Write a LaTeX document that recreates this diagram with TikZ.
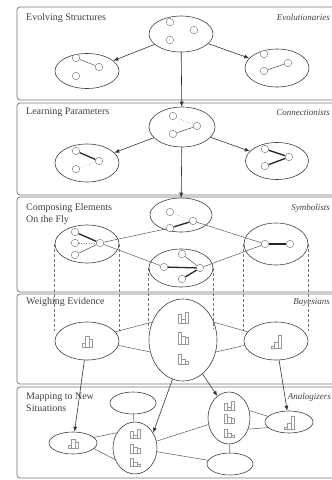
\documentclass[tikz,border=0pt]{standalone}
\usepackage{fontspec}
\setmainfont{Liberation Serif}
\usetikzlibrary{shapes.geometric,arrows.meta}

\begin{document}
\begin{tikzpicture}[x=1pt,y=-1pt,
  panel/.style={draw=black!55, line width=0.7pt, rounded corners=3pt},
  blob/.style={ellipse, draw=black!75, line width=0.6pt, fill=white, inner sep=0pt},
  dot/.style={circle, draw=black!55, fill=white, minimum size=7.5pt, inner sep=0pt},
  task/.style={anchor=north west, inner sep=0pt, align=left, text=black!75, font=\fontsize{10}{12}\selectfont},
  tribe/.style={task, anchor=north east, font=\fontsize{9}{11}\selectfont\itshape},
  lnk/.style={draw=black!65, line width=0.5pt},
  lnkbold/.style={draw=black!85, line width=1.3pt},
  lnkdot/.style={draw=black!50, line width=0.5pt, dotted},
  arr/.style={draw=black!80, line width=0.6pt, -{Latex[length=5pt,width=4pt]}},
  proj/.style={draw=black!55, line width=0.6pt, densely dashed},
  hbar/.style={draw=black!40, line width=0.4pt},
  pics/hist/.style={code={\foreach \h [count=\i] in {#1} \draw[hbar] ({(\i-1)*3.5-5},0) rectangle ++(3.5,-\h);}}]
\useasboundingbox (0,0) rectangle (332,480);

\draw[panel] (17,7) rectangle (345,100);
\draw[panel] (17,103) rectangle (345,195);
\draw[panel] (17,197) rectangle (345,292);
\draw[panel] (17,294) rectangle (345,384);
\draw[panel] (17,387) rectangle (345,478);

\node[task] (task1) at (26,13) {Evolving Structures};
\node[task] (task2) at (26,108) {Learning Parameters};
\node[task] (task3) at (26,203) {Composing Elements\\On the Fly};
\node[task] (task4) at (26,297) {Weighing Evidence};
\node[task] (task5) at (26,393) {Mapping to New\\Situations};
\node[tribe] (tribe1) at (330,14) {Evolutionaries};
\node[tribe] (tribe2) at (330,109) {Connectionists};
\node[tribe] (tribe3) at (330,204) {Symbolists};
\node[tribe] (tribe4) at (330,298) {Bayesians};

% evolving structures
\node[blob, minimum width=64pt, minimum height=36pt] (t1) at (181,34) {};
\node[blob, minimum width=64pt, minimum height=35pt] (l1) at (87,71) {};
\node[blob, minimum width=64pt, minimum height=38pt] (r1) at (277,68) {};
\node[dot] (e1) at (170,22) {};
\node[dot] (e2) at (194,30) {};
\node[dot] (e3) at (170,40) {};
\node[dot] (e4) at (76,58) {};
\node[dot] (e5) at (99,67) {};
\node[dot] (e6) at (76,76) {};
\node[dot] (e7) at (264,54) {};
\node[dot] (e8) at (288,63) {};
\node[dot] (e9) at (264,71) {};
\draw[lnk] (e4) -- (e5);
\draw[lnk] (e9) -- (e8);

% learning parameters
\node[blob, minimum width=66pt, minimum height=40pt] (t2) at (182,127) {};
\node[blob, minimum width=64pt, minimum height=38pt] (l2) at (87,163) {};
\node[blob, minimum width=63pt, minimum height=37pt] (r2) at (277,161) {};
\node[dot] (c1) at (173,116) {};
\node[dot] (c2) at (197,126) {};
\node[dot] (c3) at (173,134) {};
\node[dot] (c4) at (76,151) {};
\node[dot] (c5) at (99,161) {};
\node[dot] (c6) at (76,169) {};
\node[dot] (c7) at (265,149) {};
\node[dot] (c8) at (289,157) {};
\node[dot] (c9) at (265,166) {};
\draw[lnkdot] (c1) -- (c2);
\draw[lnk] (c3) -- (c2);
\draw[lnkbold] (c4) -- (c5);
\draw[lnkdot] (c6) -- (c5);
\draw[lnkbold] (c7) -- (c8);
\draw[lnkbold] (c9) -- (c8);

\draw[arr] (t1) -- (l1);
\draw[arr] (t1) -- (r1);
\draw[arr] (t1) -- (t2);
\draw[arr] (t2) -- (l2);
\draw[arr] (t2) -- (r2);

% composing elements
\node[blob, minimum width=62pt, minimum height=34pt] (a3) at (181,215) {};
\node[blob, minimum width=64pt, minimum height=38pt] (b3) at (181,268) {};
\node[blob, minimum width=64pt, minimum height=38pt] (l3) at (87,244) {};
\node[blob, minimum width=64pt, minimum height=42pt] (r3) at (276,244) {};
\draw[arr] (t2) -- (a3);
\node[dot] (s1) at (75,232) {};
\node[dot] (s2) at (75,243) {};
\node[dot] (s3) at (75,255) {};
\node[dot] (s4) at (100,243) {};
\node[dot] (s5) at (170,212) {};
\node[dot] (s6) at (170,228) {};
\node[dot] (s7) at (193,221) {};
\node[dot] (s8) at (182,254) {};
\node[dot] (s9) at (164,267) {};
\node[dot] (s10) at (200,268) {};
\node[dot] (s11) at (182,279) {};
\node[dot] (s12) at (265,244) {};
\node[dot] (s13) at (290,244) {};
\draw[lnkbold] (s1) -- (s4);
\draw[lnkdot] (s2) -- (s4);
\draw[lnk] (s3) -- (s4);
\draw[lnkdot] (s5) -- (s7);
\draw[lnkbold] (s6) -- (s7);
\draw[lnkbold] (s9) -- (s10);
\draw[lnk] (s8) -- (s10);
\draw[lnkbold] (s11) -- (s10);
\draw[lnkbold] (s12) -- (s13);
\draw[lnk] (s4) -- (s6);
\draw[lnk] (s4) -- (s9);
\draw[lnk] (s7) -- (s12);
\draw[lnk] (s10) -- (s12);

% weighing evidence
\node[blob, minimum width=64pt, minimum height=38pt] (l4) at (87,341) {};
\node[blob, minimum width=68pt, minimum height=82pt] (big) at (183,340) {};
\node[blob, minimum width=64pt, minimum height=38pt] (r4) at (276,341) {};
\draw[proj] (l3.west) -- (l3.west |- l4.160);
\draw[proj] (l3.east) -- (l3.east |- l4.20);
\draw[proj] (b3.west) -- (b3.west |- big.160);
\draw[proj] (b3.east) -- (b3.east |- big.20);
\draw[proj] (r3.west) -- (r3.west |- r4.160);
\draw[proj] (r3.east) -- (r3.east |- r4.20);
\draw[lnk] (l4.18) -- (big.150);
\draw[lnk] (l4.-8) -- (big.-160);
\draw[lnk] (big.30) -- (r4.162);
\draw[lnk] (big.-20) -- (r4.-172);
\pic at (87,347) {hist={4,11,8}};
\pic at (183,323) {hist={9,4,11}};
\pic at (183,344) {hist={12,8,7}};
\pic at (183,364) {hist={10,5,3}};
\pic at (276,348) {hist={2,6,13}};

% mapping to new situations
\node[blob, minimum width=48pt, minimum height=22pt] (left5) at (73,443) {};
\node[blob, minimum width=46pt, minimum height=22pt] (top5) at (133,403) {};
\node[blob, minimum width=44pt, minimum height=52pt] (cl5) at (135,448) {};
\node[blob, minimum width=42pt, minimum height=52pt] (rt5) at (229,418) {};
\node[blob, minimum width=46pt, minimum height=22pt] (bot5) at (230,464) {};
\node[blob, minimum width=48pt, minimum height=22pt] (fr5) at (289,422) {};
\node[tribe] (tribe5) at (331,393) {Analogizers};
\draw[lnk] (left5.15) -- (cl5.140);
\draw[lnk] (left5.-15) -- (cl5.-150);
\draw[lnk] (top5) -- (cl5);
\draw[lnk] (cl5) -- (rt5);
\draw[lnk] (cl5) -- (bot5);
\draw[lnk] (rt5) -- (bot5);
\draw[lnk] (rt5.20) -- (fr5.165);
\draw[lnk] (rt5.-30) -- (fr5.195);
\pic at (73,448) {hist={3,9,6}};
\pic at (135,438) {hist={7,3,9}};
\pic at (135,453) {hist={9,6,5}};
\pic at (135,466) {hist={8,4,2}};
\pic at (229,410) {hist={7,3,9}};
\pic at (229,423) {hist={9,6,5}};
\pic at (229,437) {hist={8,4,2}};
\pic at (289,429) {hist={2,6,13}};

\draw[arr] (l4) -- (left5);
\draw[arr] (big.-105) -- (cl5.40);
\draw[arr] (big.-60) -- (rt5.118);
\draw[arr] (r4) -- (fr5);
\end{tikzpicture}
\end{document}
